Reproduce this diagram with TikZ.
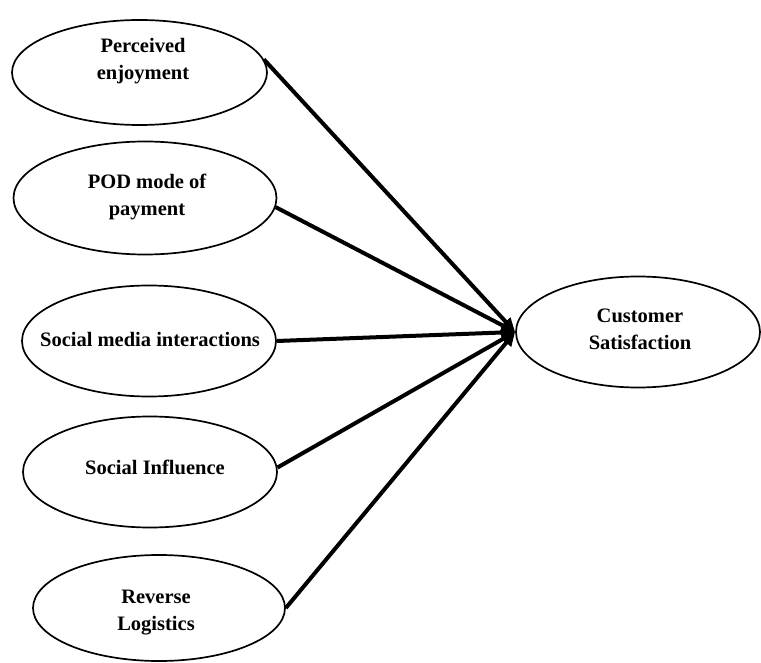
\documentclass[tikz,border=0pt]{standalone}
\usepackage{fontspec}
\setmainfont{Liberation Serif}
\usetikzlibrary{shapes.geometric,arrows.meta}
\begin{document}
\begin{tikzpicture}[x=1pt,y=-1pt,
  oval/.style={draw, ellipse, line width=1.7pt, inner sep=0pt},
  lbl/.style={font=\fontsize{20.5}{27}\selectfont\bfseries, align=center, inner sep=0pt},
  link/.style={line width=4pt, -{Triangle[length=14pt,width=12pt]}}]
\useasboundingbox (0,0) rectangle (761,663);
% construct ovals
\node[oval, minimum width=255pt, minimum height=105pt] (e1) at (139.5,72.5) {};
\node[oval, minimum width=263pt, minimum height=113pt] (e2) at (145,198) {};
\node[oval, minimum width=254pt, minimum height=111pt] (e3) at (149,341) {};
\node[oval, minimum width=254pt, minimum height=111pt] (e4) at (150,472) {};
\node[oval, minimum width=252pt, minimum height=106pt] (e5) at (159,608) {};
\node[oval, minimum width=244pt, minimum height=111pt] (e6) at (638,332) {};
% labels
\node[lbl] (t1) at (143,61) {Perceived\\enjoyment};
\node[lbl] (t2) at (147,197) {POD mode of\\payment};
\node[lbl] (t3) at (150,339) {Social media interactions};
\node[lbl] (t4) at (155,467) {Social Influence};
\node[lbl] (t5) at (156,613) {Reverse\\Logistics};
\node[lbl] (t6) at (640,329) {Customer\\Satisfaction};
% paths into the outcome
\draw[link] (e1.6) -- (e6.west);
\draw[link] (e2.-4) -- (e6.west);
\draw[link] (e3.east) -- (e6.west);
\draw[link] (e4.2) -- (e6.west);
\draw[link] (e5.east) -- (e6.west);
\end{tikzpicture}
\end{document}
